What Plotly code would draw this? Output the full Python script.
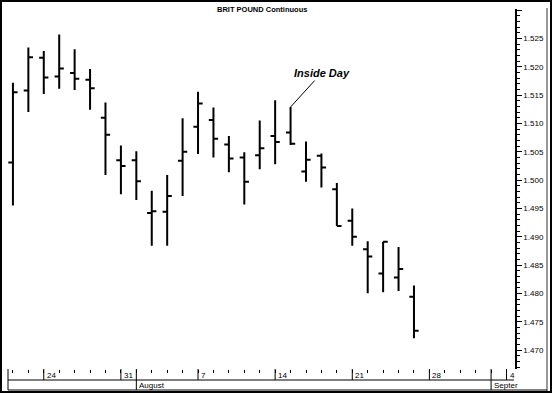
import plotly.graph_objects as go
import pandas as pd

# ---- data ----
dates = ["1995-07-20", "1995-07-21", "1995-07-24", "1995-07-25", "1995-07-26",
         "1995-07-27", "1995-07-28", "1995-07-31", "1995-08-01", "1995-08-02",
         "1995-08-03", "1995-08-04", "1995-08-07", "1995-08-08", "1995-08-09",
         "1995-08-10", "1995-08-11", "1995-08-14", "1995-08-15", "1995-08-16",
         "1995-08-17", "1995-08-18", "1995-08-21", "1995-08-22", "1995-08-23",
         "1995-08-24", "1995-08-25"]
opens = [1.5031, 1.5158, 1.5216, 1.5183, 1.5189, 1.5177, 1.5110, 1.5035, 1.5035,
         1.4942, 1.4944, 1.5034, 1.5094, 1.5106, 1.5063, 1.5040, 1.5044, 1.5078,
         1.5084, 1.5015, 1.5043, 1.4984, 1.4928, 1.4878, 1.4835, 1.4828, 1.4794]
highs = [1.5172, 1.5234, 1.5228, 1.5257, 1.5231, 1.5196, 1.5137, 1.5061, 1.5051,
         1.4981, 1.5009, 1.5109, 1.5156, 1.5128, 1.5078, 1.5049, 1.5105, 1.5141,
         1.5129, 1.5068, 1.5047, 1.4995, 1.4950, 1.4892, 1.4891, 1.4882, 1.4814]
lows = [1.4955, 1.5120, 1.5152, 1.5161, 1.5159, 1.5124, 1.5009, 1.4975, 1.4965,
        1.4884, 1.4884, 1.4972, 1.5046, 1.5040, 1.5014, 1.4957, 1.5019, 1.5028,
        1.5062, 1.4997, 1.4987, 1.4919, 1.4884, 1.4800, 1.4802, 1.4804, 1.4721]
closes = [1.5155, 1.5217, 1.5181, 1.5197, 1.5179, 1.5162, 1.5080, 1.5025, 1.4998,
          1.4945, 1.4972, 1.5050, 1.5135, 1.5073, 1.5038, 1.4997, 1.5056, 1.5067,
          1.5064, 1.5036, 1.5022, 1.4919, 1.4900, 1.4865, 1.4891, 1.4843, 1.4734]

week_dates = ["1995-07-24", "1995-07-31", "1995-08-07", "1995-08-14",
              "1995-08-21", "1995-08-28", "1995-09-04"]
week_labels = ["24", "31", "7", "14", "21", "28", "4"]
month_dates = ["1995-08-01", "1995-09-01"]
month_labels = ["August", "Septer"]
title_text = "BRIT POUND Continuous"
note_text = "Inside Day"
note_date = "1995-08-15"

# trading-day calendar -> x position
cal = pd.bdate_range("1995-07-20", "1995-09-04")
pos = {d.strftime("%Y-%m-%d"): i for i, d in enumerate(cal)}
x = [pos[d] for d in dates]

# ---- layout geometry ----
W, H = 552, 393
L, R, T, B = 8, 37, 9, 24
pw, ph = W - L - R, H - T - B


def px_x(p):
    return (p - L) / pw


def px_y(p):
    return (H - B - p) / ph


FONT = "Liberation Sans, Arial, sans-serif"

fig = go.Figure(go.Ohlc(
    x=x, open=opens, high=highs, low=lows, close=closes,
    increasing=dict(line=dict(color="black", width=2)),
    decreasing=dict(line=dict(color="black", width=2)),
    tickwidth=0.3, showlegend=False,
))

shapes = []
line = dict(color="black", width=1)
# outer border
shapes.append(dict(type="rect", xref="paper", yref="paper",
                   x0=px_x(1), x1=px_x(551), y0=px_y(392), y1=px_y(1),
                   line=dict(color="black", width=2)))
# inner right border
shapes.append(dict(type="line", xref="paper", yref="paper",
                   x0=px_x(547), x1=px_x(547), y0=px_y(391), y1=px_y(8),
                   line=dict(color="#333", width=1)))
# date band lines
shapes.append(dict(type="line", xref="paper", yref="paper",
                   x0=px_x(8), x1=px_x(514), y0=px_y(380), y1=px_y(380), line=line))
shapes.append(dict(type="line", xref="paper", yref="paper",
                   x0=px_x(8), x1=px_x(547), y0=px_y(390), y1=px_y(390), line=line))
shapes.append(dict(type="line", xref="paper", yref="paper",
                   x0=px_x(8), x1=px_x(8), y0=px_y(369), y1=px_y(390), line=line))
for d in week_dates:
    shapes.append(dict(type="line", xref="x", yref="paper",
                       x0=pos[d], x1=pos[d], y0=px_y(369), y1=px_y(380), line=line))
for d in month_dates:
    shapes.append(dict(type="line", xref="x", yref="paper",
                       x0=pos[d], x1=pos[d], y0=px_y(369), y1=px_y(390), line=line))

annotations = []
for d, lab in zip(week_dates, week_labels):
    annotations.append(dict(text=lab, xref="x", yref="paper", x=pos[d], y=px_y(375),
                            xanchor="left", yanchor="middle", xshift=1, showarrow=False,
                            font=dict(family=FONT, size=8, color="black")))
for d, lab in zip(month_dates, month_labels):
    annotations.append(dict(text=lab, xref="x", yref="paper", x=pos[d], y=px_y(385.5),
                            xanchor="left", yanchor="middle", xshift=1, showarrow=False,
                            font=dict(family=FONT, size=8, color="black")))
annotations.append(dict(text="<b>" + title_text + "</b>", xref="paper", yref="paper",
                        x=px_x(261.5), y=px_y(10), xanchor="center", yanchor="middle",
                        showarrow=False, font=dict(family=FONT, size=7.5, color="black")))
ni = dates.index(note_date)
annotations.append(dict(text="<b><i>" + note_text + "</i></b>", xref="x", yref="y",
                        x=x[ni], y=highs[ni], ax=31, ay=-34, showarrow=True,
                        arrowhead=0, arrowwidth=1, arrowcolor="black",
                        font=dict(family=FONT, size=11, color="black")))

fig.update_layout(
    width=W, height=H,
    margin=dict(l=L, r=R, t=T, b=B, pad=0),
    paper_bgcolor="white", plot_bgcolor="white",
    shapes=shapes, annotations=annotations,
    showlegend=False,
    xaxis=dict(range=[-0.32, 32.55], tickmode="array", tickvals=list(range(len(cal))),
               ticks="outside", ticklen=3, tickcolor="black", showticklabels=False,
               showgrid=False, zeroline=False, showline=False,
               rangeslider=dict(visible=False), fixedrange=True),
    yaxis=dict(side="right", range=[1.46665, 1.5302], tick0=1.47, dtick=0.005,
               tickformat=".3f", labelalias={"1.530": ""},
               ticks="outside", ticklen=5, tickcolor="black",
               showline=True, linecolor="black", linewidth=1.5,
               minor=dict(ticks="outside", ticklen=3, dtick=0.001, tick0=1.47,
                          tickcolor="black", showgrid=False),
               showgrid=False, zeroline=False, fixedrange=True,
               tickfont=dict(family=FONT, size=8, color="black")),
)

fig.write_html("out.html")
